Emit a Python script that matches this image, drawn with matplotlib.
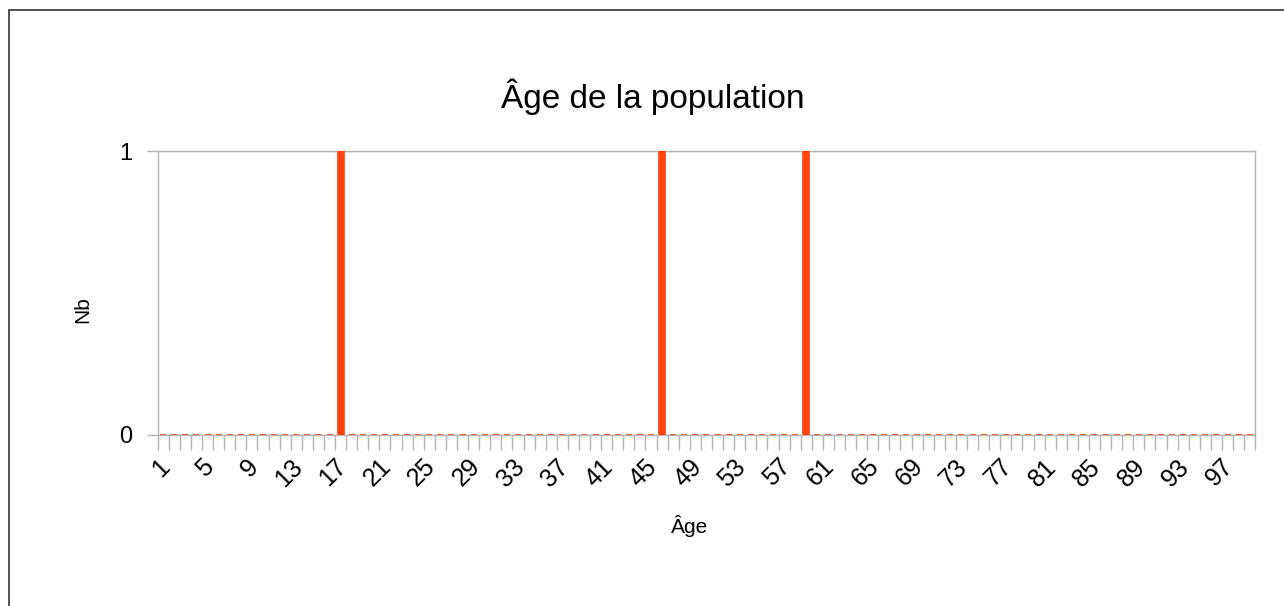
import matplotlib.pyplot as plt
import matplotlib.transforms as mtransforms
import numpy as np
from matplotlib.patches import Rectangle

plt.rcParams['font.family'] = ['Liberation Sans', 'DejaVu Sans']

ages = list(range(1, 100))
counts = [0] * 99
for a in (17, 46, 59):
    counts[a - 1] = 1
tick_labels = [str(a) for a in ages[::4]]

grey = '#b3b3b3'
red = '#ff420e'

fig = plt.figure(figsize=(12.84, 6.06), dpi=100)
ax = fig.add_axes([0.1228, 0.2822, 0.8548, 0.4686])

x = np.arange(len(ages))
ax.bar(x, counts, width=0.54, color=red, edgecolor=red, linewidth=1.2, zorder=3)

ax.set_xlim(-0.5, len(ages) - 0.5)
ax.set_ylim(0, 1)
ax.set_yticks([0, 1])
ax.set_yticklabels(['0', '1'], fontsize=17)
ax.yaxis.grid(True, color=grey, linewidth=1)

ax.set_xticks(x[::4])
ax.set_xticklabels(tick_labels, rotation=45, ha='right', va='top',
                   rotation_mode='anchor', fontsize=18)
ax.set_xticks(np.arange(len(ages) + 1) - 0.5, minor=True)
ax.tick_params(axis='x', which='major', length=0, pad=14)
ax.tick_params(axis='x', which='minor', length=11, color=grey, width=1)
ax.tick_params(axis='y', length=8, color=grey, width=1, pad=10)

# shift the slanted labels a bit to the left
shift = mtransforms.ScaledTranslation(-6 / 100, 0, fig.dpi_scale_trans)
for lbl in ax.get_xticklabels():
    lbl.set_transform(lbl.get_transform() + shift)

for s in ax.spines.values():
    s.set_color(grey)
    s.set_linewidth(1)

fig.text(690 / 1284, 1 - 526 / 606, 'Âge', ha='center', va='center', fontsize=15)
fig.text(83 / 1284, 1 - 310 / 606, 'Nb', ha='center', va='center',
         rotation=90, fontsize=15)
fig.text(0.508, 1 - 97 / 606, 'Âge de la population', ha='center', va='center',
         fontsize=24)

fig.patches.append(Rectangle((9 / 1284, -0.1), 1.2, 1.1 - 10 / 606,
                             transform=fig.transFigure, fill=False,
                             edgecolor='#333333', linewidth=1.2))

fig.savefig('out.png', dpi=100)
